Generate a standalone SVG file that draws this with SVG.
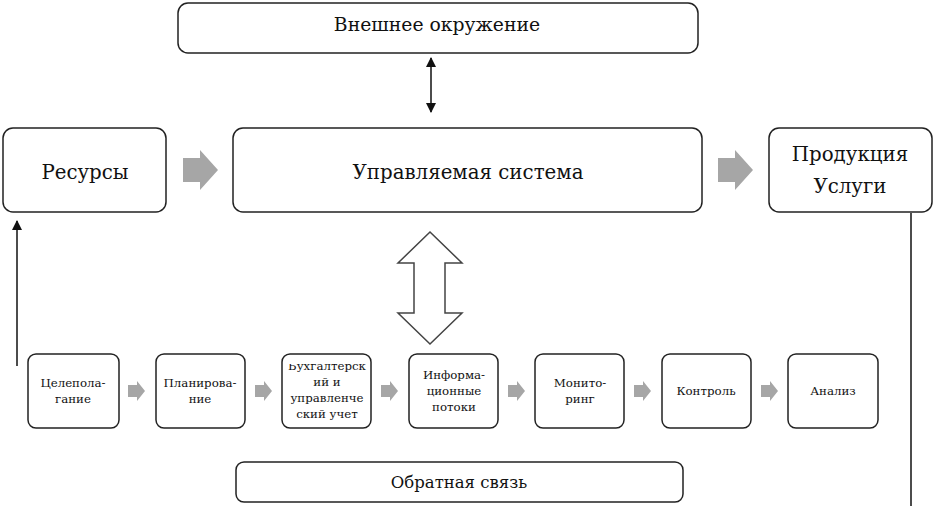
<svg xmlns="http://www.w3.org/2000/svg" width="937" height="506" viewBox="0 0 937 506">
<defs>
<style>
.box{fill:#fff;stroke:#222;stroke-width:1.5}
.t{font-family:'DejaVu Serif',serif;fill:#111;text-anchor:middle}
.big{font-size:19.8px}
.mid{font-size:16.5px}
.sm{font-size:11.8px}
.ga{fill:#a6a6a6}
.ln{stroke:#111;stroke-width:1.5;fill:none}
</style>
<marker id="ah" viewBox="0 0 10 10" refX="9" refY="5" markerWidth="7" markerHeight="7" orient="auto-start-reverse"><path d="M0,0 L10,5 L0,10 z" fill="#111"/></marker>
<path id="sa" d="M0,-6 L9,-6 L9,-10 L17,0 L9,10 L9,6 L0,6 z"/>
<path id="ba" d="M0,-12 L17,-12 L17,-20 L35,0 L17,20 L17,12 L0,12 z"/>
<clipPath id="c3"><rect x="282" y="364" width="90" height="70"/></clipPath>
</defs>
<g id="env"><rect class="box" x="178" y="3" width="520" height="50" rx="10"/><text class="t" font-size="18.8" x="437" y="31">Внешнее окружение</text></g>
<g id="res"><rect class="box" x="3" y="128" width="163" height="84" rx="10"/><text class="t big" x="85" y="179">Ресурсы</text></g>
<g id="sys"><rect class="box" x="233" y="128" width="469" height="84" rx="10"/><text class="t big" x="468" y="179">Управляемая система</text></g>
<g id="prod"><rect class="box" x="769" y="128" width="163" height="84" rx="10"/><text class="t big" x="850" y="161">Продукция</text><text class="t big" x="850" y="193">Услуги</text></g>
<g id="n1"><rect class="box" x="28" y="354" width="91" height="74" rx="8"/><text class="t sm" x="73" y="387">Целепола-</text><text class="t sm" x="73" y="403">гание</text></g>
<g id="n2"><rect class="box" x="156" y="354" width="89" height="74" rx="8"/><text class="t sm" x="200" y="387">Планирова-</text><text class="t sm" x="200" y="403">ние</text></g>
<g id="n3"><rect class="box" x="282" y="354" width="89" height="74" rx="8"/><text class="t sm" x="327" y="370" clip-path="url(#c3)">Бухгалтерск</text><text class="t sm" x="327" y="386">ий и</text><text class="t sm" x="327" y="402">управленче</text><text class="t sm" x="327" y="418">ский учет</text></g>
<g id="n4"><rect class="box" x="409" y="354" width="89" height="74" rx="8"/><text class="t sm" x="454" y="379">Информа-</text><text class="t sm" x="454" y="395">ционные</text><text class="t sm" x="454" y="411">потоки</text></g>
<g id="n5"><rect class="box" x="535" y="354" width="89" height="74" rx="8"/><text class="t sm" x="580" y="387">Монито-</text><text class="t sm" x="580" y="403">ринг</text></g>
<g id="n6"><rect class="box" x="662" y="354" width="89" height="74" rx="8"/><text class="t sm" x="706" y="395">Контроль</text></g>
<g id="n7"><rect class="box" x="788" y="354" width="90" height="74" rx="8"/><text class="t sm" x="833" y="395">Анализ</text></g>
<g id="fb"><rect class="box" x="236" y="462" width="447" height="40" rx="8"/><text class="t mid" x="459" y="488">Обратная связь</text></g>
<g id="connectors">
<line class="ln" x1="431" y1="58" x2="431" y2="112" marker-start="url(#ah)" marker-end="url(#ah)"/>
<use href="#ba" class="ga" transform="translate(183,170)"/>
<use href="#ba" class="ga" transform="translate(718,170)"/>
<path d="M430,232 L462,263 L445,263 L445,313 L462,313 L430,344 L398,313 L414,313 L414,263 L398,263 z" fill="#fff" stroke="#444" stroke-width="1.5"/>
<use href="#sa" class="ga" transform="translate(128,391)"/>
<use href="#sa" class="ga" transform="translate(255,391)"/>
<use href="#sa" class="ga" transform="translate(381,391)"/>
<use href="#sa" class="ga" transform="translate(508,391)"/>
<use href="#sa" class="ga" transform="translate(634,391)"/>
<use href="#sa" class="ga" transform="translate(761,391)"/>
<line class="ln" x1="17" y1="366" x2="17" y2="221" marker-end="url(#ah)"/>
<line class="ln" x1="911" y1="213" x2="911" y2="506"/>
</g>
</svg>
